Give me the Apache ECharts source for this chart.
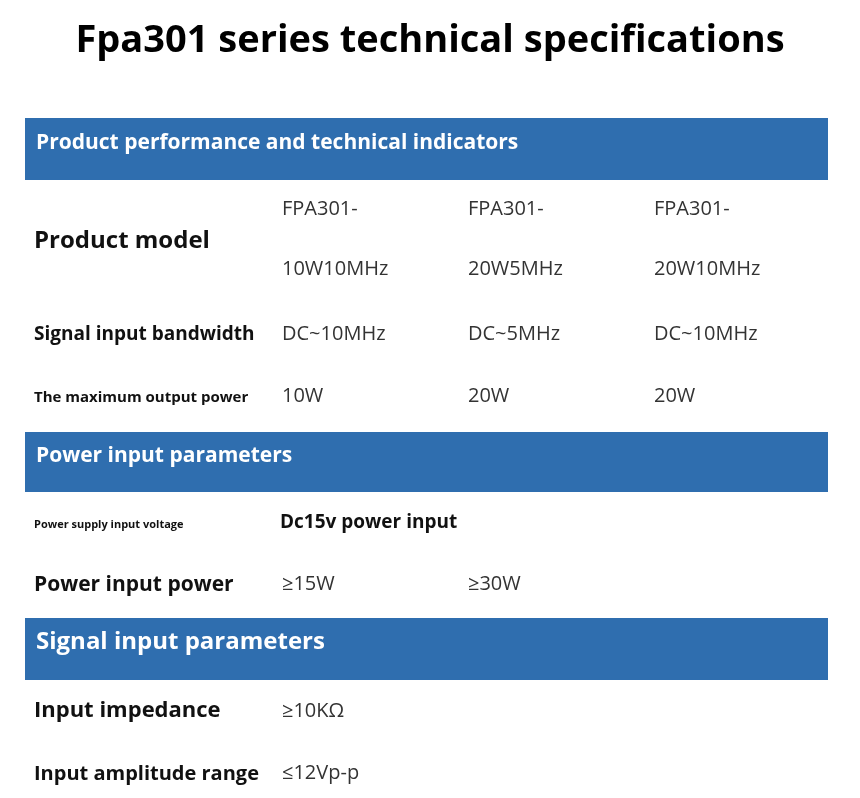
<!DOCTYPE html>
<html><head><meta charset="utf-8">
<script src="https://cdn.jsdelivr.net/npm/echarts@6/dist/echarts.min.js"></script>
<style>html,body{margin:0;padding:0;background:#fff}#c{width:860px;height:798px}</style>
</head><body><div id="c"></div>
<script>
const title = "Fpa301 series technical specifications";
const sections = ["Product performance and technical indicators", "Power input parameters", "Signal input parameters"];
const modelRow1 = ["FPA301-", "FPA301-", "FPA301-"];
const modelRow2 = ["10W10MHz", "20W5MHz", "20W10MHz"];
const bandwidth = ["DC~10MHz", "DC~5MHz", "DC~10MHz"];
const maxPower = ["10W", "20W", "20W"];
const inputPower = ["≥15W", "≥30W"];
const rowLabels = ["Product model", "Signal input bandwidth", "The maximum output power", "Power supply input voltage", "Power input power", "Input impedance", "Input amplitude range"];
const supplyVoltage = "Dc15v power input";
const impedance = "≥10KΩ";
const amplitude = "≤12Vp-p";

const F = "'Open Sans','Noto Sans',sans-serif";
const g = [];
const txt = (x, y, s, size, bold, color) => g.push({type:'text', left:x, top:y - size*0.7,
  style:{text:s, font:(bold?'bold ':'')+size+'px '+F, fill:color||'#111'}});
g.push({type:'text', left:'center', top:22, style:{text:title, font:'bold 38px '+F, fill:'#000'}});
const bandY = [118, 432, 618];
const bandH = [62, 60, 62];
sections.forEach((s,i)=>{
  g.push({type:'rect', shape:{x:25,y:bandY[i],width:803,height:bandH[i]}, style:{fill:'#2f6eaf'}});
  txt(36, bandY[i]+bandH[i]/2 - 2, s, i==2?24:21, true, '#fff');
});
const cols = [282, 468, 654];
const vc = '#333';
txt(34, 246, rowLabels[0], 24, true);
modelRow1.forEach((v,i)=>txt(cols[i],213,v,20,false,vc));
modelRow2.forEach((v,i)=>txt(cols[i],273,v,20,false,vc));
txt(34, 338, rowLabels[1], 19, true);
bandwidth.forEach((v,i)=>txt(cols[i],338,v,20,false,vc));
txt(34, 401, rowLabels[2], 15, true);
maxPower.forEach((v,i)=>txt(cols[i],400,v,20,false,vc));
txt(34, 527, rowLabels[3], 11, true);
txt(280, 526, supplyVoltage, 19, true);
txt(34, 589, rowLabels[4], 21, true);
inputPower.forEach((v,i)=>txt(cols[i],588,v,20,false,vc));
txt(34, 715, rowLabels[5], 22, true);
txt(282, 715, impedance, 20, false, vc);
txt(34, 778, rowLabels[6], 20, true);
txt(282, 777, amplitude, 20, false, vc);

const chart = echarts.init(document.getElementById('c'));
chart.setOption({graphic:g});
</script></body></html>
